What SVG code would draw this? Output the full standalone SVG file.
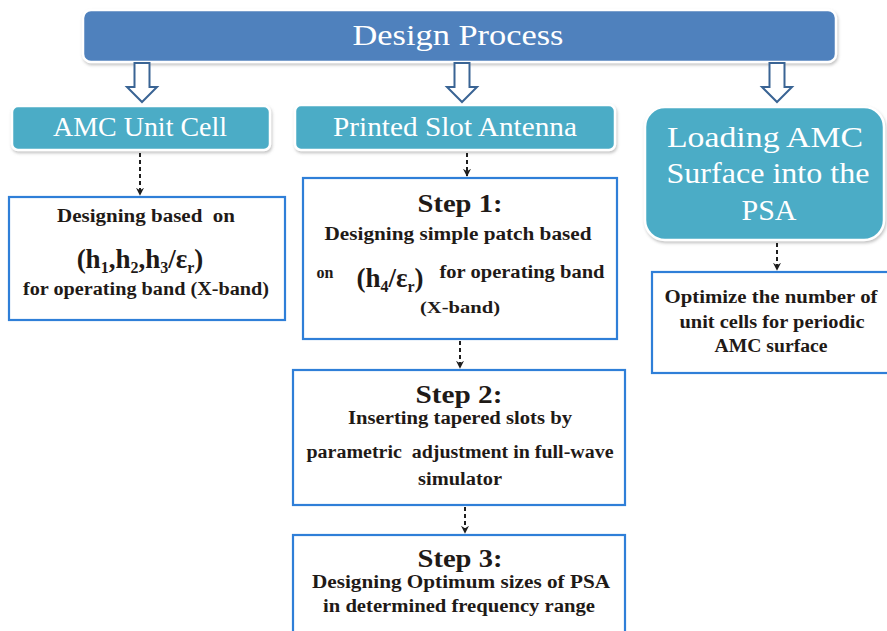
<svg xmlns="http://www.w3.org/2000/svg" width="887" height="631" viewBox="0 0 887 631">
  <defs>
    <filter id="soft" x="-5%" y="-10%" width="110%" height="130%">
      <feDropShadow dx="1" dy="2" stdDeviation="1.5" flood-color="#7a7a7a" flood-opacity="0.45"/>
    </filter>
    <marker id="tip" viewBox="0 0 10 10" refX="9" refY="5" markerWidth="8" markerHeight="8" markerUnits="userSpaceOnUse" orient="auto">
      <path d="M0,0 L10,5 L0,10 L3,5 Z" fill="#1e1e1e"/>
    </marker>
    <style>
      .head { fill: #4f81bd; stroke: #ffffff; stroke-width: 2.5; filter: url(#soft); }
      .teal { fill: #4bacc6; stroke: #ffffff; stroke-width: 2.5; filter: url(#soft); }
      .plain { fill: #ffffff; stroke: #2f7fd8; stroke-width: 2.2; }
      .hollow { fill: #ffffff; stroke: #3a6494; stroke-width: 2; stroke-linejoin: miter; }
      .dash { stroke: #1e1e1e; stroke-width: 2; stroke-dasharray: 4 3; fill: none; marker-end: url(#tip); }
      text { text-anchor: middle; }
      .w { fill: #ffffff; }
      .b { fill: #1f1a17; font-weight: bold; }
      .t1 { font-size: 30px; }
      .t2 { font-size: 27px; }
      .step { font-size: 26px; }
      .body { font-size: 18px; }
      .frm { font-size: 27px; }
    </style>
  </defs>

  <g font-family="'Liberation Serif', 'DejaVu Serif', serif">
  <!-- top banner -->
  <g id="design-process">
    <rect class="head" x="83" y="10" width="753" height="52" rx="8"/>
    <text class="w t1" x="458" y="45" textLength="211" lengthAdjust="spacingAndGlyphs">Design Process</text>
  </g>

  <!-- second row: category boxes -->
  <g id="amc-unit-cell">
    <rect class="teal" x="12" y="106" width="258" height="44" rx="6"/>
    <text class="w t2" x="140" y="136" textLength="174" lengthAdjust="spacingAndGlyphs">AMC Unit Cell</text>
  </g>
  <g id="printed-slot-antenna">
    <rect class="teal" x="295" y="105" width="320" height="45" rx="6"/>
    <text class="w t2" x="455" y="136" textLength="244" lengthAdjust="spacingAndGlyphs">Printed Slot Antenna</text>
  </g>
  <g id="loading-amc">
    <rect class="teal" x="645" y="107" width="239" height="133" rx="20"/>
    <text class="w t1" x="765" y="147" textLength="196" lengthAdjust="spacingAndGlyphs">Loading AMC</text>
    <text class="w t1" x="768" y="183" textLength="203" lengthAdjust="spacingAndGlyphs">Surface into the</text>
    <text class="w t1" x="769" y="220" textLength="55" lengthAdjust="spacingAndGlyphs">PSA</text>
  </g>

  <!-- detail boxes -->
  <g id="amc-design">
    <rect class="plain" x="9" y="197" width="276" height="123"/>
    <text class="b body" x="146" y="222" textLength="178" lengthAdjust="spacingAndGlyphs" xml:space="preserve">Designing based  on</text>
    <text class="b frm" x="140" y="268">(h<tspan font-size="16" dy="5">1</tspan><tspan dy="-5">,h</tspan><tspan font-size="16" dy="5">2</tspan><tspan dy="-5">,h</tspan><tspan font-size="16" dy="5">3</tspan><tspan dy="-5">/ε</tspan><tspan font-size="16" dy="5">r</tspan><tspan dy="-5">)</tspan></text>
    <text class="b body" x="146" y="295" textLength="246" lengthAdjust="spacingAndGlyphs">for operating band (X-band)</text>
  </g>

  <g id="step-1">
    <rect class="plain" x="303" y="178" width="314" height="161"/>
    <text class="b step" x="460" y="212" textLength="85" lengthAdjust="spacingAndGlyphs">Step 1:</text>
    <text class="b body" x="458" y="240" textLength="267" lengthAdjust="spacingAndGlyphs">Designing simple patch based</text>
    <text class="b" x="325" y="278" font-size="16">on</text>
    <text class="b frm" x="390" y="287">(h<tspan font-size="16" dy="5">4</tspan><tspan dy="-5">/ε</tspan><tspan font-size="16" dy="5">r</tspan><tspan dy="-5">)</tspan></text>
    <text class="b body" x="522" y="278" textLength="165" lengthAdjust="spacingAndGlyphs">for operating band</text>
    <text class="b" x="460" y="313" font-size="17" textLength="80" lengthAdjust="spacingAndGlyphs">(X-band)</text>
  </g>

  <g id="step-2">
    <rect class="plain" x="293" y="370" width="332" height="135"/>
    <text class="b step" x="459" y="403" textLength="87" lengthAdjust="spacingAndGlyphs">Step 2:</text>
    <text class="b body" x="460" y="424" textLength="224" lengthAdjust="spacingAndGlyphs">Inserting tapered slots by</text>
    <text class="b body" x="460" y="458" textLength="307" lengthAdjust="spacingAndGlyphs" xml:space="preserve">parametric  adjustment in full-wave</text>
    <text class="b body" x="460" y="485" textLength="84" lengthAdjust="spacingAndGlyphs">simulator</text>
  </g>

  <g id="step-3">
    <rect class="plain" x="293" y="535" width="332" height="110"/>
    <text class="b step" x="460" y="567" textLength="85" lengthAdjust="spacingAndGlyphs">Step 3:</text>
    <text class="b body" x="461" y="588" textLength="298" lengthAdjust="spacingAndGlyphs">Designing Optimum sizes of PSA</text>
    <text class="b body" x="459" y="612" textLength="272" lengthAdjust="spacingAndGlyphs">in determined frequency range</text>
  </g>

  <g id="optimize">
    <rect class="plain" x="652" y="272" width="240" height="101"/>
    <text class="b body" x="771" y="303" textLength="213" lengthAdjust="spacingAndGlyphs">Optimize the number of</text>
    <text class="b body" x="772" y="328" textLength="185" lengthAdjust="spacingAndGlyphs">unit cells for periodic</text>
    <text class="b body" x="771" y="352" textLength="113" lengthAdjust="spacingAndGlyphs">AMC surface</text>
  </g>
  </g>

  <!-- connectors -->
  <g id="connectors">
    <path class="hollow" d="M134.5,63 H149.5 V87 H157 L142,102 L127,87 H134.5 Z"/>
    <path class="hollow" d="M454.5,63 H469.5 V87 H477 L462,102 L447,87 H454.5 Z"/>
    <path class="hollow" d="M769.5,63 H784.5 V87 H792 L777,102 L762,87 H769.5 Z"/>
    <line class="dash" x1="140" y1="153" x2="140" y2="195"/>
    <line class="dash" x1="467" y1="153" x2="467" y2="176"/>
    <line class="dash" x1="460" y1="341" x2="460" y2="368"/>
    <line class="dash" x1="465" y1="507" x2="465" y2="533"/>
    <line class="dash" x1="777" y1="243" x2="777" y2="270"/>
  </g>
</svg>
